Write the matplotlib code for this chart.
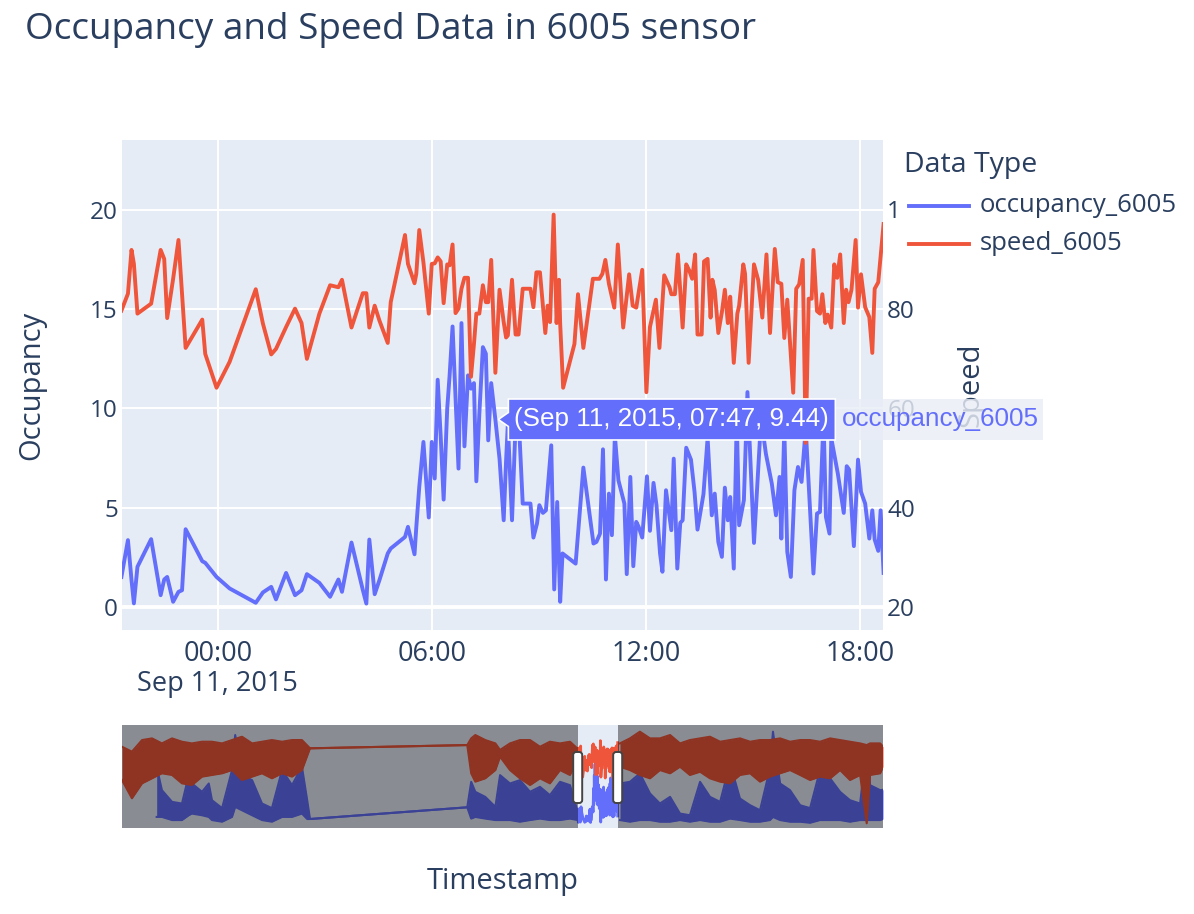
import matplotlib
matplotlib.use("Agg")
import matplotlib.pyplot as plt
import matplotlib.dates as mdates
import matplotlib.patches as mpatches
import matplotlib.transforms as mtransforms
from matplotlib.lines import Line2D
import numpy as np
import pandas as pd

plt.rcParams['font.family'] = ['Open Sans', 'DejaVu Sans']

BLUE = '#636efa'
RED = '#EF553B'
INK = '#2a3f5f'
BG = '#E5ECF6'

# ---- detailed data (visible window) ----
shared_times = [
    "2015-09-10 21:18", "2015-09-10 21:29", "2015-09-10 21:35", "2015-09-10 21:39",
    "2015-09-10 21:45", "2015-09-10 22:08", "2015-09-10 22:24", "2015-09-10 22:30",
    "2015-09-10 22:35", "2015-09-10 22:45", "2015-09-10 22:54", "2015-09-10 23:00",
    "2015-09-10 23:06", "2015-09-10 23:34", "2015-09-10 23:39", "2015-09-10 23:58",
    "2015-09-11 00:20", "2015-09-11 01:04", "2015-09-11 01:16", "2015-09-11 01:30",
    "2015-09-11 01:38", "2015-09-11 01:55", "2015-09-11 02:10", "2015-09-11 02:21",
    "2015-09-11 02:30", "2015-09-11 02:51", "2015-09-11 03:09", "2015-09-11 03:23",
    "2015-09-11 03:29", "2015-09-11 03:45", "2015-09-11 04:04", "2015-09-11 04:10",
    "2015-09-11 04:15", "2015-09-11 04:24", "2015-09-11 04:32", "2015-09-11 04:46",
    "2015-09-11 04:51", "2015-09-11 05:15", "2015-09-11 05:20", "2015-09-11 05:31",
    "2015-09-11 05:34", "2015-09-11 05:39", "2015-09-11 05:46", "2015-09-11 05:55",
    "2015-09-11 06:00", "2015-09-11 06:05", "2015-09-11 06:10", "2015-09-11 06:15",
    "2015-09-11 06:20", "2015-09-11 06:26", "2015-09-11 06:30", "2015-09-11 06:35",
    "2015-09-11 06:40", "2015-09-11 06:45", "2015-09-11 06:50", "2015-09-11 06:55",
    "2015-09-11 07:01", "2015-09-11 07:06", "2015-09-11 07:11", "2015-09-11 07:15",
    "2015-09-11 07:20", "2015-09-11 07:26", "2015-09-11 07:31", "2015-09-11 07:35",
    "2015-09-11 07:40", "2015-09-11 07:47", "2015-09-11 07:54", "2015-09-11 08:01",
    "2015-09-11 08:05", "2015-09-11 08:08", "2015-09-11 08:15",
]
shared_speed = [
    79.6, 83.0, 91.8, 89.0, 79.0, 81.0, 91.8, 90.0, 78.1, 86.0, 93.8, 83.0, 72.1, 77.8, 70.9, 64.1,
    69.3, 83.9, 77.0, 70.8, 71.9, 76.3, 80.0, 77.1, 69.9, 79.0,
    84.7, 84.3, 85.8, 76.2, 83.1, 83.1, 76.2, 80.6, 77.6, 73.1,
    81.3, 94.8, 89.0, 85.1, 87.0, 95.8, 89.3, 79.0, 89.0, 89.1,
    90.3, 89.5, 81.1, 88.9, 88.7, 92.9, 79.1, 80.0, 84.0, 86.2,
    86.2, 66.3, 72.9, 79.0, 79.0, 84.7, 81.3, 81.3, 89.8, 67.1,
    83.8, 77.3, 74.2, 74.6, 85.8,
]
shared_occ = [
    1.52, 3.37, 1.36, 0.19, 2.03, 3.42, 0.60, 1.39, 1.52, 0.27, 0.77, 0.85, 3.92, 2.31, 2.23, 1.52,
    0.94, 0.22, 0.74, 1.02, 0.39, 1.72, 0.60, 0.85, 1.66, 1.22,
    0.52, 1.39, 0.77, 3.25, 0.87, 0.18, 3.40, 0.65, 1.36, 2.70,
    2.95, 3.53, 4.04, 2.66, 4.02, 6.05, 8.31, 4.51, 8.31, 6.47,
    11.44, 8.61, 5.41, 9.98, 11.64, 14.12, 10.55, 6.97, 14.29, 8.09,
    11.66, 10.99, 11.27, 6.33, 9.70, 13.08, 12.75, 8.39, 11.27, 9.44,
    7.47, 4.37, 7.35, 9.23, 4.37,
]

# rest of Sep 11 (HH:MM)
speed_times_pm = [
    "08:21", "08:26", "08:33", "08:46", "08:51", "08:56", "09:02", "09:11", "09:15", "09:19",
    "09:25", "09:30", "09:34", "09:36", "09:41", "10:00", "10:06", "10:15", "10:31", "10:42",
    "10:47", "10:52", "10:58", "11:07", "11:13", "11:22", "11:32", "11:38", "11:44", "11:54",
    "12:01", "12:07", "12:17", "12:23", "12:31", "12:40", "12:43", "12:49", "12:54", "13:02",
    "13:08", "13:13", "13:18", "13:23", "13:27", "13:34", "13:38", "13:44", "13:49", "13:52",
    "13:56", "14:02", "14:08", "14:13", "14:18", "14:22", "14:28", "14:34", "14:37", "14:44",
    "14:47", "14:53", "15:02", "15:09", "15:16", "15:23", "15:29", "15:37", "15:42", "15:48",
    "15:53", "15:58", "16:08", "16:13", "16:18", "16:24", "16:29", "16:34", "16:39", "16:42",
    "16:48", "16:53", "16:57", "17:02", "17:06", "17:12", "17:17", "17:22", "17:27", "17:33",
    "17:37", "17:41", "17:46", "17:53", "17:57", "18:02", "18:09", "18:16", "18:21", "18:25",
    "18:31", "18:40",
]
speed_pm = [
    74.8, 74.8, 84.0, 84.0, 80.3, 87.3, 87.3, 75.1, 80.6, 77.3,
    98.9, 77.1, 85.8, 77.0, 64.1, 72.9, 82.9, 72.1, 86.0, 86.0,
    87.0, 89.8, 85.0, 80.2, 92.9, 76.2, 86.9, 80.6, 80.2, 87.8,
    63.2, 76.3, 81.8, 72.1, 86.7, 84.3, 82.9, 82.9, 90.9, 76.2,
    88.9, 87.7, 86.0, 90.9, 74.8, 74.8, 89.5, 90.0, 78.2, 85.8,
    83.7, 75.1, 79.3, 83.8, 77.1, 82.4, 69.1, 79.0, 80.6, 88.9,
    87.0, 69.1, 88.9, 85.8, 78.2, 90.9, 75.1, 92.0, 85.3, 85.0,
    74.1, 81.8, 63.1, 84.0, 84.9, 89.8, 53.0, 82.0, 82.0, 91.8,
    79.5, 79.0, 82.9, 77.1, 78.8, 76.2, 88.9, 86.2, 90.9, 77.1,
    83.8, 81.3, 83.8, 93.8, 80.2, 86.9, 80.3, 78.3, 71.1, 84.0,
    85.3, 97.0,
]
occ_times_pm = [
    "08:21", "08:27", "08:33", "08:46", "08:51", "08:57", "09:01", "09:07", "09:12", "09:21",
    "09:26", "09:31", "09:36", "09:40", "10:02", "10:15", "10:32", "10:37", "10:43", "10:48",
    "10:53", "10:58", "11:03", "11:08", "11:14", "11:24", "11:28", "11:34", "11:39", "11:44",
    "11:48", "11:54", "12:02", "12:07", "12:13", "12:18", "12:24", "12:28", "12:34", "12:43",
    "12:47", "12:53", "12:58", "13:02", "13:08", "13:16", "13:22", "13:27", "13:37", "13:44",
    "13:51", "13:56", "14:02", "14:08", "14:13", "14:18", "14:22", "14:28", "14:33", "14:37",
    "14:45", "14:51", "15:02", "15:14", "15:22", "15:32", "15:39", "15:45", "15:48", "15:53",
    "15:58", "16:04", "16:10", "16:16", "16:22", "16:29", "16:42", "16:48", "16:53", "16:59",
    "17:03", "17:09", "17:12", "17:23", "17:33", "17:38", "17:42", "17:50", "17:57", "18:02",
    "18:09", "18:16", "18:21", "18:25", "18:31", "18:35", "18:40",
]
occ_pm = [
    9.2, 9.0, 5.21, 5.21, 3.50, 4.20, 5.13, 4.74, 4.87, 8.14,
    0.89, 5.29, 0.27, 2.70, 2.19, 7.02, 3.20, 3.28, 3.70, 7.94,
    1.39, 5.71, 3.62, 8.64, 6.38, 5.21, 1.66, 6.55, 2.06, 4.29,
    4.04, 3.50, 6.58, 3.84, 6.25, 5.13, 2.70, 1.78, 5.88, 3.87,
    7.47, 1.94, 4.24, 4.37, 8.02, 7.42, 5.80, 3.90, 5.68, 8.5,
    4.62, 5.71, 3.28, 2.53, 6.01, 4.37, 5.54, 1.94, 9.5, 4.12,
    5.38, 10.82, 3.23, 9.5, 7.72, 6.21, 4.62, 6.55, 3.45, 9.0,
    2.78, 1.52, 5.88, 7.05, 6.30, 9.0, 1.69, 4.71, 4.79, 9.5,
    4.54, 3.70, 8.5, 6.72, 4.74, 7.09, 6.92, 3.07, 7.42, 5.80,
    5.21, 3.45, 4.87, 3.40, 2.83, 4.87, 1.72,
]

# ---- overview (range slider) envelopes, hours from 2015-09-11 00:00 ----
ov_spd_hours = [-245.8, -240.5, -235.1, -229.8, -224.5, -219.1, -213.8, -208.5, -203.1, -197.8,
                -192.4, -187.1, -181.8, -176.4, -171.1, -165.8, -160.4, -155.1, -149.8, -145.5,
                -61.6, -59.5, -57.3, -52.0, -46.6, -44.1, -38.8, -33.5, -28.1, -22.8,
                -17.5, -12.1, -6.8, -3.2,
                19.9, 25.2, 30.5, 35.9, 41.2, 46.6, 51.9, 57.2, 62.6, 67.9,
                73.3, 78.6, 83.9, 89.3, 94.6, 99.9, 105.3, 110.6, 116.0, 121.3,
                126.6, 132.0, 137.3, 142.6, 148.0, 151.5, 153.3, 158.7, 160.2]
ov_spd_hi = [93.1, 88.4, 99.5, 101.1, 96.3, 101.1, 97.9, 96.3, 97.9, 97.9,
             96.3, 99.5, 102.7, 96.3, 97.9, 99.5, 97.9, 99.5, 99.5, 91.6,
             94.7, 101.1, 104.3, 99.5, 96.3, 90.0, 96.3, 99.5, 99.5, 93.1,
             97.9, 96.3, 97.9, 92.0,
             96.3, 101.1, 107.5, 101.1, 101.1, 104.3, 96.3, 99.5, 101.1, 102.7,
             97.9, 99.5, 101.1, 97.9, 99.5, 99.5, 101.1, 97.9, 99.5, 99.5,
             97.9, 101.1, 99.5, 97.9, 96.3, 94.7, 96.3, 96.3, 93.1]
ov_spd_lo = [61.3, 43.8, 58.1, 62.9, 67.7, 66.1, 58.1, 56.5, 64.5, 66.1,
             67.7, 70.8, 61.3, 64.5, 67.7, 62.9, 67.7, 64.5, 70.8, 91.6,
             94.7, 67.7, 59.7, 62.9, 70.8, 83.6, 70.8, 62.9, 56.5, 62.9,
             58.1, 70.8, 66.1, 79.0,
             74.0, 70.8, 66.1, 62.9, 70.8, 67.7, 74.0, 66.1, 69.2, 62.9,
             59.7, 58.1, 66.1, 67.7, 59.7, 64.5, 67.7, 70.8, 66.1, 61.3,
             64.5, 62.9, 70.8, 61.3, 66.1, 19.9, 66.1, 67.7, 74.0]

ov_occ_hours = [-227.3, -224.5, -219.1, -213.8, -210.2, -208.5, -203.1, -199.5, -197.8, -192.4,
                -187.1, -185.4, -181.8, -176.4, -171.1, -165.8, -160.4, -155.1, -149.8, -147.0,
                -145.5, -61.6, -59.5, -57.3, -52.0, -46.6, -44.1, -38.8, -33.5, -28.1,
                -22.8, -17.5, -12.1, -6.8, -3.2,
                19.9, 25.2, 30.5, 35.9, 41.2, 46.6, 51.9, 57.2, 62.6, 67.9,
                73.3, 78.6, 83.9, 89.3, 94.6, 99.9, 101.5, 105.3, 110.6, 116.0,
                121.3, 126.6, 132.0, 137.3, 142.6, 148.0, 151.5, 153.3, 158.7, 160.2]
ov_occ_hi = [13.5, 7.9, 5.1, 4.7, 11.5, 9.5, 7.5, 9.5, 5.5, 3.6,
             12.7, 21.1, 11.5, 10.3, 4.7, 3.6, 12.7, 9.1, 13.5, 5.5,
             1.0, 3.8, 9.9, 7.5, 6.3, 3.9, 11.5, 9.5, 10.3, 7.5,
             8.7, 6.7, 9.9, 9.1, 3.5,
             9.5, 9.9, 11.9, 7.1, 4.7, 6.3, 2.3, 1.9, 9.9, 6.3,
             5.1, 14.3, 5.9, 4.3, 3.1, 13.1, 21.9, 9.5, 7.9, 4.3,
             3.6, 12.7, 10.7, 7.5, 5.5, 4.7, 18.7, 9.1, 7.9, 8.0]
ov_occ_lo = [1.5, 1.5, 0.75, 0.75, 1.9, 2.3, 1.9, 1.5, 0.75, 0.35,
             1.5, 3.9, 3.1, 1.9, 0.75, 0.35, 1.5, 1.5, 2.3, 1.0,
             1.0, 3.8, 1.1, 1.5, 1.1, 0.75, 0.75, 0.75, 0.35, 0.75,
             1.1, 0.75, 0.75, 1.1, 0.8,
             0.75, 0.35, 0.75, 0.75, 0.35, 0.35, 0.75, 0.35, 0.75, 0.35,
             0.35, 1.1, 0.75, 0.35, 0.35, 0.75, 1.5, 0.75, 0.35, 0.35,
             0.1, 0.75, 0.75, 0.75, 0.35, 0.75, 0.75, 0.75, 0.75, 1.0]

view_start, view_end = "2015-09-10 21:19", "2015-09-11 18:39"
hover_time, hover_value = "2015-09-11 07:47", 9.44

base = pd.Timestamp("2015-09-11 00:00")
occ_t = pd.to_datetime(shared_times + ["2015-09-11 " + t for t in occ_times_pm])
spd_t = pd.to_datetime(shared_times + ["2015-09-11 " + t for t in speed_times_pm])
occ_v = shared_occ + occ_pm
spd_v = shared_speed + speed_pm


def hrs(h):
    return (base + pd.to_timedelta(np.asarray(h), unit="h")).to_numpy()


W, H = 1194, 914
fig = plt.figure(figsize=(W / 100, H / 100), dpi=100)


def box(x0, y0, x1, y1):
    # pixel box measured from the top-left -> figure fraction
    return [x0 / W, 1 - y1 / H, (x1 - x0) / W, (y1 - y0) / H]


# ---- main plot ----
ax = fig.add_axes(box(122, 140, 883, 630))
ax.set_facecolor(BG)
ax2 = ax.twinx()

ax.plot(occ_t, occ_v, color=BLUE, lw=2.8)
ax2.plot(spd_t, spd_v, color=RED, lw=2.8)

x0, x1 = pd.Timestamp(view_start), pd.Timestamp(view_end)
ax.set_xlim(x0, x1)
ax.set_ylim(-1.15, 23.5)
ax2.set_ylim(15.4, 113.9)
ax.set_yticks([0, 5, 10, 15, 20])
ax2.set_yticks([20, 40, 60, 80, 100])
ax.xaxis.set_major_locator(mdates.HourLocator(byhour=[0, 6, 12, 18]))
ax.xaxis.set_major_formatter(mdates.DateFormatter('%H:%M'))

ax.grid(True, color='white', lw=1.4)
ax.set_axisbelow(True)
ax.axhline(0, color='white', lw=2.8, zorder=1.5)
for a in (ax, ax2):
    for s in a.spines.values():
        s.set_visible(False)
ax.tick_params(axis='y', length=0, labelsize=17.5, labelcolor=INK, pad=3)
ax.tick_params(axis='x', length=0, labelsize=19.5, labelcolor=INK, pad=7)
ax2.tick_params(axis='y', length=0, labelsize=17.5, labelcolor=INK, pad=3)

ax.annotate("Sep 11, 2015", xy=(base, 0), xycoords=('data', 'axes fraction'),
            xytext=(0, -54), textcoords='offset pixels', ha='center', va='center',
            fontsize=19.5, color=INK)

ax.set_ylabel("Occupancy", fontsize=21, color=INK, va='center')
ax.yaxis.set_label_coords(-0.118, 0.5)
ax2.set_ylabel("Speed", fontsize=21, color=INK, va='center', rotation=90)
ax2.yaxis.set_label_coords(1.1156, 0.5)

fig.text(25 / W, 1 - 39 / H, "Occupancy and Speed Data in 6005 sensor",
         ha='left', va='baseline', fontsize=26.6, color=INK)
fig.text(502.5 / W, 1 - 882 / H, "Timestamp", ha='center', va='center',
         fontsize=21, color=INK)

# ---- range slider ----
axs = fig.add_axes(box(122, 725, 883, 828))
axs.set_facecolor(BG)
axs2 = axs.twinx()

oh = np.array(ov_occ_hours)
sh = np.array(ov_spd_hours)
for part in (oh < 0, oh > 0):
    t = hrs(oh[part])
    axs.fill_between(t, np.array(ov_occ_lo)[part], np.array(ov_occ_hi)[part],
                     color=BLUE, lw=0)
    axs.plot(t, np.array(ov_occ_lo)[part], color=BLUE, lw=1.5)
    axs.plot(t, np.array(ov_occ_hi)[part], color=BLUE, lw=1.5)
for part in (sh < 0, sh > 0):
    t = hrs(sh[part])
    axs2.fill_between(t, np.array(ov_spd_lo)[part], np.array(ov_spd_hi)[part],
                      color=RED, lw=0)
    axs2.plot(t, np.array(ov_spd_lo)[part], color=RED, lw=1.5)
    axs2.plot(t, np.array(ov_spd_hi)[part], color=RED, lw=1.5)
axs.plot(occ_t, occ_v, color=BLUE, lw=2)
axs2.plot(spd_t, spd_v, color=RED, lw=2)

s0, s1 = hrs(ov_spd_hours[0]), hrs(ov_spd_hours[-1])
axs.set_xlim(s0, s1)
axs.set_ylim(-1.15, 23.5)
axs2.set_ylim(15.4, 113.9)
axs2.axvspan(s0, x0, color='black', alpha=0.4, lw=0, zorder=10)
axs2.axvspan(x1, s1, color='black', alpha=0.4, lw=0, zorder=10)
for a in (axs, axs2):
    a.set_xticks([])
    a.set_yticks([])
    for s in a.spines.values():
        s.set_visible(False)

ident = mtransforms.IdentityTransform()
for edge in (x0, x1):
    xd = axs.transData.transform((mdates.date2num(edge), 0))[0]
    fig.add_artist(mpatches.FancyBboxPatch(
        (xd - 4.5, H - 803), 9, 51, boxstyle='round,pad=0,rounding_size=3',
        fc='white', ec='#444444', lw=1.4, transform=ident, zorder=5))

# ---- legend ----
fig.add_artist(mpatches.Rectangle((899, H - 272), W - 899, 132, fc='white', ec='none',
                                  transform=ident, zorder=4))
fig.text(904, H - 165, "Data Type", transform=ident, ha='left', va='center',
         fontsize=20.5, color=INK, zorder=6)
for yy, col, name in ((206, BLUE, "occupancy_6005"), (244, RED, "speed_6005")):
    fig.add_artist(Line2D([909, 969], [H - yy, H - yy], color=col, lw=2.8,
                          transform=ident, zorder=6))
    fig.text(980, H - yy, name, transform=ident, ha='left', va='center',
             fontsize=18.5, color=INK, zorder=6)

# ---- hover label ----
tx, ty = ax.transData.transform((mdates.date2num(pd.Timestamp(hover_time)), hover_value))
tx += 3
poly = [(tx, ty), (tx + 10, ty + 7), (tx + 10, ty + 20.5), (tx + 337, ty + 20.5),
        (tx + 337, ty - 20.5), (tx + 10, ty - 20.5), (tx + 10, ty - 7)]
fig.add_artist(mpatches.Polygon(poly, closed=True, fc=BLUE, ec='white', lw=1.2,
                                transform=ident, zorder=4))
fig.text(tx + 16, ty, "(Sep 11, 2015, 07:47, 9.44)", transform=ident, ha='left',
         va='center', fontsize=18.7, color='white', family=['Liberation Sans', 'DejaVu Sans'],
         zorder=6)
fig.add_artist(mpatches.Rectangle((tx + 338, ty - 20.5), 207, 41, fc=(0.915, 0.93, 0.965),
                                  alpha=0.82, ec='none', transform=ident, zorder=4))
fig.text(tx + 344, ty, "occupancy_6005", transform=ident, ha='left', va='center',
         fontsize=18.7, color=BLUE, family=['Liberation Sans', 'DejaVu Sans'], zorder=6)

fig.savefig('out.png', dpi=100, facecolor='white')
